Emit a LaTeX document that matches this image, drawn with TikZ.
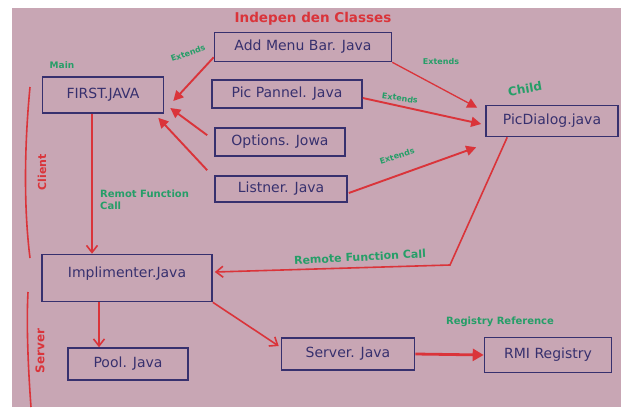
\documentclass[tikz,border=0pt]{standalone}
\usepackage{fontspec}
\setmainfont{DejaVu Sans}
\usetikzlibrary{arrows.meta,calc}
\definecolor{bgpink}{RGB}{200,166,180}
\definecolor{ink}{RGB}{55,48,110}
\definecolor{mred}{RGB}{218,52,58}
\definecolor{mgreen}{RGB}{38,158,104}
\begin{document}
\begin{tikzpicture}[x=1pt,y=-1pt,
  box/.style={draw=ink, line width=1.6pt, text=ink, font=\fontsize{14}{16}\selectfont, inner sep=2pt},
  lbl/.style={text=mgreen, font=\fontsize{8}{9}\selectfont\bfseries, inner sep=1pt},
  rlbl/.style={text=mred, font=\fontsize{11}{12}\selectfont\bfseries, inner sep=1pt},
  fillarrow/.style={draw=mred, line width=1.9pt, -{Triangle[length=10pt,width=10pt]}},
  openarrow/.style={draw=mred, line width=1.6pt, -{Straight Barb[length=7pt,width=11pt]}},
  plainred/.style={draw=mred, line width=1.6pt}
]
\fill[white] (0,0) rectangle (621,407);
\fill[bgpink] (12,8) rectangle (621,407);
\useasboundingbox (0,0) rectangle (621,407);

% title
\node[text=mred, font=\fontsize{13.5}{15}\selectfont\bfseries] (title) at (313,19) {Indepen den Classes};

% boxes
\node[box, minimum width=177pt, minimum height=29pt] (addmenu) at (303,47) {Add Menu Bar. Java};
\node[box, minimum width=121pt, minimum height=36pt] (first) at (103,95) {FIRST.JAVA};
\node[box, minimum width=150pt, minimum height=28pt] (picpannel) at (287,94) {Pic Pannel. Java};
\node[box, minimum width=132pt, minimum height=31pt] (picdialog) at (552,121) {PicDialog.java};
\node[box, minimum width=130pt, minimum height=28pt] (options) at (280,142) {Options. Jowa};
\node[box, minimum width=132pt, minimum height=26pt] (listner) at (281,189) {Listner. Java};
\node[box, minimum width=170pt, minimum height=47pt, text depth=12pt] (impl) at (127,278) {Implimenter.Java};
\node[box, minimum width=120pt, minimum height=32pt] (pool) at (128,364) {Pool. Java};
\node[box, minimum width=133pt, minimum height=32pt] (server) at (348,354) {Server. Java};
\node[box, minimum width=127pt, minimum height=35pt] (rmi) at (548,355) {RMI Registry};

% green labels
\node[lbl, rotate=20] (ext1) at (188,53) {Extends};
\node[lbl] (ext2) at (441,62) {Extends};
\node[lbl, rotate=-8] (ext3) at (400,98) {Extends};
\node[lbl, rotate=18] (ext4) at (397,156) {Extends};
\node[lbl, font=\fontsize{9}{10}\selectfont\bfseries] (mainlbl) at (62,65) {Main};
\node[lbl, font=\fontsize{12}{13}\selectfont\bfseries, rotate=10] (childlbl) at (525,89) {Child};
\node[lbl, font=\fontsize{10}{12}\selectfont\bfseries, align=left, anchor=west] (rfc1) at (99,200) {Remot Function\\Call};
\node[lbl, font=\fontsize{11}{12}\selectfont\bfseries, rotate=3] (rfc2) at (360,257) {Remote Function Call};
\node[lbl, font=\fontsize{10}{12}\selectfont\bfseries] (regref) at (500,322) {Registry Reference};

% red side labels and brackets
\node[rlbl, rotate=90] (client) at (42,172) {Client};
\node[rlbl, font=\fontsize{12}{13}\selectfont\bfseries, rotate=90] (serverlbl) at (40,351) {Server};
\coordinate (c1) at (30,87);
\coordinate (c2) at (30,258);
\coordinate (s1) at (28,292);
\coordinate (s2) at (31,407);
\draw[plainred] (c1) .. controls (24,150) and (24,210) .. (c2);
\draw[plainred] (s1) .. controls (26,330) and (29,380) .. (s2);

% extends arrows to FIRST
\draw[fillarrow] ($(addmenu.south west)+(0,-5)$) -- ($(first.east)+(9,6)$);
\draw[fillarrow] ($(options.north west)+(-7,8)$) -- ($(first.east)+(6,13)$);
\draw[fillarrow] ($(listner.north west)+(-7,-5)$) -- ($(first.south east)+(-6,4)$);

% extends arrows to PicDialog
\draw[fillarrow, line width=1.3pt] (addmenu.south east) -- ($(picdialog.north west)+(-8,3)$);
\draw[fillarrow] ($(picpannel.east)+(0,4)$) -- ($(picdialog.west)+(-4,3)$);
\draw[fillarrow] ($(listner.east)+(1,4)$) -- ($(picdialog.south west)+(-9,10)$);

% remote function call from PicDialog to Implimenter
\coordinate (corner) at (450,265);
\draw[openarrow] ($(picdialog.south west)+(22,0)$) -- (corner) -- ($(impl.east)+(2,-6)$);

% FIRST -> Implimenter
\draw[openarrow] ($(first.south)+(-11,0)$) -- ($(impl.north)+(-35,0)$);
% Implimenter -> Pool
\draw[openarrow] ($(impl.south)+(-28,0)$) -- ($(pool.north)+(-29,0)$);
% Implimenter -> Server
\draw[openarrow] (impl.south east) -- ($(server.west)+(-2,-8)$);
% Server -> RMI
\draw[draw=mred, line width=2.8pt, -{Triangle[length=11pt,width=12pt]}] (server.east) -- (rmi.west);
\end{tikzpicture}
\end{document}
